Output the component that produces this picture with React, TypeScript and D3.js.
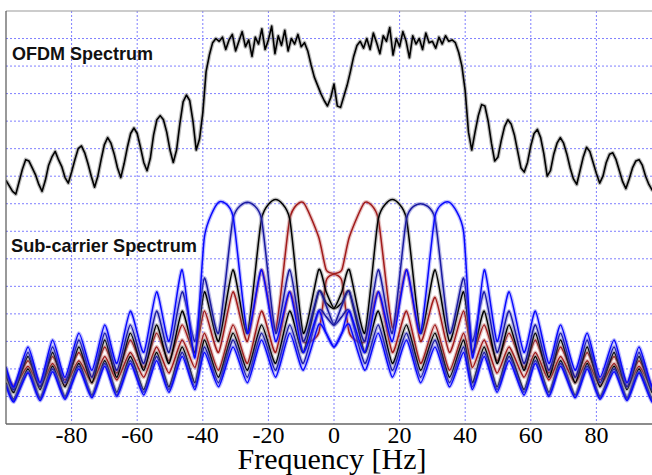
import React from "react";
import * as d3 from "d3";

// ---------- data (levels in grid units, 0 = bottom axis, 15 = top border) ----------
const xTicks = [-80, -60, -40, -20, 0, 20, 40, 60, 80];
const yGrid = [1, 2, 3, 4, 5, 6, 7, 8, 9, 10, 11, 12, 13, 14];

// OFDM spectrum sampled every 1 Hz from -100 Hz
const ofdmStartHz = -100;
const ofdmStepHz = 1;
const ofdmLevels = [
  8.85, 8.65, 8.45, 8.35, 8.8, 9.25, 9.6, 9.55, 9.3, 9.05,
  8.7, 8.45, 8.85, 9.4, 9.7, 9.9, 9.6, 9.35, 8.95, 8.75,
  9.15, 9.6, 10.0, 10.1, 9.85, 9.45, 9.0, 8.6, 9.0, 9.6,
  10.15, 10.4, 10.2, 9.8, 9.3, 8.95, 9.45, 10.05, 10.55, 10.75,
  10.55, 10.05, 9.5, 9.2, 9.65, 10.5, 11.05, 11.2, 11.05, 10.6,
  9.95, 9.5, 9.95, 10.9, 11.7, 11.95, 11.75, 11.0, 9.95, 10.35,
  11.3, 12.8, 13.4, 13.85, 14.0, 13.9, 14.05, 13.6, 13.95, 14.15,
  13.55, 13.9, 14.25, 13.7, 13.95, 13.35, 14.05, 13.8, 14.35, 13.6,
  13.95, 14.45, 13.45, 14.1, 13.75, 14.3, 13.55, 14.0, 13.8, 14.15,
  13.7, 13.85, 13.55, 13.05, 12.6, 12.3, 12.0, 11.75, 11.55, 11.85,
  12.35, 11.55, 11.5, 11.9, 12.3, 12.8, 13.35, 13.75, 13.9, 13.65,
  14.0, 13.6, 14.2, 13.85, 13.45, 14.1, 13.9, 14.4, 13.4, 14.0,
  13.7, 14.25, 13.9, 13.3, 14.1, 13.8, 14.0, 13.6, 14.2, 13.85,
  13.9, 13.65, 14.05, 13.8, 14.1, 13.9, 13.95, 13.85, 13.5, 13.0,
  12.1, 10.6, 9.95, 10.6, 11.2, 11.6, 11.55, 11.0, 10.2, 9.55,
  9.7, 10.3, 10.8, 11.05, 10.9, 10.5, 9.9, 9.3, 9.15, 9.5,
  10.1, 10.55, 10.7, 10.4, 9.8, 9.0, 9.2, 9.8, 10.2, 10.4,
  10.2, 9.8, 9.3, 8.9, 8.7, 9.2, 9.7, 10.05, 9.9, 9.5,
  9.1, 8.75, 9.0, 9.5, 9.8, 9.85, 9.6, 9.2, 8.8, 8.55,
  8.9, 9.3, 9.55, 9.6, 9.4, 9.0, 8.7, 8.5, 8.75,
];

// Sub-carrier spectra: levels at shared frequency nodes (peaks / nulls)
const scFreqs = [
  -100, -97.6, -93.3, -89.6, -85.8, -82, -77.8, -73.8, -69.9, -66.2, -62.1, -58, -54.1, -50.3, -46.3, -42.4,
  -39.5, -35.2, -30.8, -26.4, -22.1, -17.8, -13.5, -9.4, -4.7, -2.4, 0, 2.4, 4.7, 9.4, 13.5, 17.8, 22.1, 26.4, 30.8, 35.2, 39.5,
  42.2, 45.8, 49.7, 53.4, 57.9, 61.4, 65.5, 69.1, 73.5, 77.2, 81.1, 85.4, 89.3, 93, 97, 100,
];
const scBlueLeft = [
  2.08, 1.35, 2.8, 1.5, 3.05, 1.7, 3.3, 1.95, 3.6, 2.2, 4.1, 2.6, 4.8, 3.0, 5.6, 2.4,
  6.8, 8.05, 7.55, 3.3, 5.6, 3.0, 4.8, 2.6, 4.1, 3.3, 2.8, 3.3, 3.6, 1.95, 3.3, 1.7, 3.05, 1.5, 2.8, 1.35, 2.6,
  1.25, 2.45, 1.15, 2.3, 1.05, 2.2, 1.0, 2.1, 0.95, 2.0, 0.9, 1.9, 0.85, 1.85, 0.8, 1.4,
];
const scNavyLeft = [
  1.95, 1.25, 2.6, 1.35, 2.8, 1.5, 3.05, 1.7, 3.3, 1.95, 3.6, 2.2, 4.1, 2.6, 4.8, 3.0,
  5.3, 3.3, 7.45, 8.05, 7.45, 3.3, 5.6, 3.0, 4.8, 4.3, 3.6, 3.9, 4.1, 2.2, 3.6, 1.95, 3.3, 1.7, 3.05, 1.5, 2.8,
  1.35, 2.6, 1.25, 2.45, 1.15, 2.3, 1.05, 2.2, 1.0, 2.1, 0.95, 2.0, 0.9, 1.9, 0.85, 1.45,
];
const scBlackLeft = [
  1.83, 1.15, 2.45, 1.25, 2.6, 1.35, 2.8, 1.5, 3.05, 1.7, 3.3, 1.95, 3.6, 2.2, 4.1, 2.6,
  4.8, 3.0, 5.6, 3.3, 7.45, 8.15, 7.45, 3.3, 5.6, 4.8, 4.2, 4.4, 4.8, 2.6, 4.1, 2.2, 3.6, 1.95, 3.3, 1.7, 3.05,
  1.5, 2.8, 1.35, 2.6, 1.25, 2.45, 1.15, 2.3, 1.05, 2.2, 1.0, 2.1, 0.95, 2.0, 0.9, 1.5,
];
const scRedLeft = [
  1.9, 1.4, 2.3, 1.5, 2.45, 1.6, 2.6, 1.7, 2.8, 1.85, 3.05, 2.05, 3.3, 2.3, 3.6, 2.55,
  4.1, 2.6, 4.8, 3.0, 5.6, 3.4, 7.45, 8.05, 6.8, 5.6, 5.45, 5.2, 3.3, 3.0, 4.8, 2.6, 4.1, 2.2, 3.6, 1.95, 3.3,
  2.05, 3.05, 1.85, 2.8, 1.7, 2.6, 1.6, 2.45, 1.5, 2.3, 1.4, 2.2, 1.35, 2.1, 1.3, 1.75,
];
const scRedRight = [
  1.75, 1.3, 2.1, 1.35, 2.2, 1.4, 2.3, 1.5, 2.45, 1.6, 2.6, 1.7, 2.8, 1.85, 3.05, 2.05,
  3.3, 1.95, 3.6, 2.2, 4.1, 2.6, 4.8, 3.0, 3.3, 5.2, 5.45, 5.6, 6.8, 8.05, 7.45, 3.5, 5.6, 3.0, 4.6, 2.6, 4.1,
  2.55, 3.6, 2.3, 3.3, 2.05, 3.05, 1.85, 2.8, 1.7, 2.6, 1.6, 2.45, 1.5, 2.3, 1.4, 1.9,
];
const scBlackRight = [
  1.5, 0.9, 2.0, 0.95, 2.1, 1.0, 2.2, 1.05, 2.3, 1.15, 2.45, 1.25, 2.6, 1.35, 2.8, 1.5,
  3.05, 1.7, 3.3, 1.95, 3.6, 2.2, 4.1, 2.6, 4.8, 4.4, 4.2, 4.8, 5.6, 3.3, 7.45, 8.15, 7.45, 3.3, 5.6, 3.0, 4.8,
  2.6, 4.1, 2.2, 3.6, 1.95, 3.3, 1.7, 3.05, 1.5, 2.8, 1.35, 2.6, 1.25, 2.45, 1.15, 1.83,
];
const scNavyRight = [
  1.45, 0.85, 1.9, 0.9, 2.0, 0.95, 2.1, 1.0, 2.2, 1.05, 2.3, 1.15, 2.45, 1.25, 2.6, 1.35,
  2.8, 1.5, 3.05, 1.7, 3.3, 1.95, 3.6, 2.2, 4.1, 3.9, 3.6, 4.3, 4.8, 3.0, 5.6, 3.3, 7.45, 8.0, 7.45, 3.3, 5.3,
  3.0, 4.8, 2.6, 4.1, 2.2, 3.6, 1.95, 3.3, 1.7, 3.05, 1.5, 2.8, 1.35, 2.6, 1.25, 1.95,
];
const scBlueRight = [
  1.4, 0.8, 1.85, 0.85, 1.9, 0.9, 2.0, 0.95, 2.1, 1.0, 2.2, 1.05, 2.3, 1.15, 2.45, 1.25,
  2.6, 1.35, 2.8, 1.5, 3.05, 1.7, 3.3, 1.95, 3.6, 3.3, 2.8, 3.3, 4.1, 2.6, 4.8, 3.0, 5.6, 3.3, 7.55, 8.05, 7.0,
  2.4, 5.6, 3.0, 4.8, 2.6, 4.1, 2.2, 3.6, 1.95, 3.3, 1.7, 3.05, 1.5, 2.8, 1.35, 2.08,
];

const labelTop = "OFDM Spectrum";
const labelBottom = "Sub-carrier Spectrum";
const xTitle = "Frequency [Hz]";

const RED = "#a11a1a";
const BLACK = "#000000";
const NAVY = "#1a1aa0";
const BLUE = "#0808ff";

const subcarriers = [
  { key: "redL", values: scRedLeft, color: RED, halo: "#c46a6a" },
  { key: "redR", values: scRedRight, color: RED, halo: "#c46a6a" },
  { key: "blackL", values: scBlackLeft, color: BLACK, halo: "#6e6e6e" },
  { key: "blackR", values: scBlackRight, color: BLACK, halo: "#6e6e6e" },
  { key: "navyL", values: scNavyLeft, color: NAVY, halo: "#5858c8" },
  { key: "navyR", values: scNavyRight, color: NAVY, halo: "#5858c8" },
  { key: "blueL", values: scBlueLeft, color: BLUE, halo: "#6060ff" },
  { key: "blueR", values: scBlueRight, color: BLUE, halo: "#6060ff" },
];

export default function App() {
  const W = 652;
  const H = 475;
  const left = 6;
  const top = 11;
  const bottom = 424;
  const x = d3.scaleLinear().domain([-100, 100]).range([left, 662]);
  const y = d3.scaleLinear().domain([0, 15]).range([bottom, top]);

  const ofdmPts: [number, number][] = ofdmLevels.map((v, i) => [ofdmStartHz + i * ofdmStepHz, v]);
  const ofdmLine = d3
    .line<[number, number]>()
    .x((d) => x(d[0]))
    .y((d) => y(d[1]))
    .curve(d3.curveLinear);
  const scLine = d3
    .line<[number, number]>()
    .x((d) => x(d[0]))
    .y((d) => y(d[1]))
    .curve(d3.curveCardinal.tension(0.4));
  const ofdmPath = ofdmLine(ofdmPts) || "";

  const gridColor = "#7e7eff";

  return (
    <svg
      width={W}
      height={H}
      viewBox={`0 0 ${W} ${H}`}
      style={{ position: "absolute", left: 0, top: 0, background: "#fff" }}
    >
      <defs>
        <clipPath id="plotClip">
          <rect x={left} y={top} width={W - left} height={bottom - top} />
        </clipPath>
      </defs>
      <rect x={0} y={0} width={W} height={H} fill="#fff" />

      {/* grid */}
      <g>
        {yGrid.map((g) => (
          <line
            key={"h" + g}
            x1={left}
            x2={W}
            y1={y(g)}
            y2={y(g)}
            stroke={gridColor}
            strokeWidth={1}
            strokeDasharray="2 2"
          />
        ))}
        {xTicks.map((t) => (
          <line
            key={"v" + t}
            x1={x(t)}
            x2={x(t)}
            y1={top}
            y2={bottom}
            stroke={gridColor}
            strokeWidth={1}
            strokeDasharray="2 2"
          />
        ))}
      </g>

      {/* curves */}
      <g clipPath="url(#plotClip)">
        <path d={ofdmPath} fill="none" stroke="#7a7a7a" strokeWidth={4} strokeOpacity={0.5} strokeLinejoin="round" />
        <path d={ofdmPath} fill="none" stroke="#000" strokeWidth={1.6} strokeLinejoin="round" />
        {subcarriers.map((s) => {
          const pts: [number, number][] = s.values.map((v, i) => [scFreqs[i], v]);
          const p = scLine(pts) || "";
          return (
            <g key={s.key}>
              <path d={p} fill="none" stroke={s.halo} strokeWidth={4} strokeOpacity={0.4} />
              <path d={p} fill="none" stroke={s.color} strokeWidth={1.5} />
            </g>
          );
        })}
      </g>

      {/* frame */}
      <line x1={left} x2={W} y1={top} y2={top} stroke="#999" strokeWidth={1} />
      <line x1={left} x2={left} y1={top} y2={bottom} stroke="#555" strokeWidth={1.2} />
      <line x1={left} x2={W} y1={bottom} y2={bottom} stroke="#666" strokeWidth={1.5} />

      {/* labels */}
      <text
        x={12}
        y={60}
        fontFamily="'Liberation Sans', Arial, sans-serif"
        fontWeight="bold"
        fontSize={18}
        fill="#111"
      >
        {labelTop}
      </text>
      <text
        x={11}
        y={252}
        fontFamily="'Liberation Sans', Arial, sans-serif"
        fontWeight="bold"
        fontSize={18.2}
        fill="#111"
      >
        {labelBottom}
      </text>

      {xTicks.map((t) => (
        <text
          key={"t" + t}
          x={x(t)}
          y={443}
          textAnchor="middle"
          fontFamily="'Liberation Serif', 'Times New Roman', serif"
          fontSize={24}
          fill="#000"
        >
          {t}
        </text>
      ))}
      <text
        x={332}
        y={469}
        textAnchor="middle"
        fontFamily="'Liberation Serif', 'Times New Roman', serif"
        fontSize={30}
        fill="#000"
      >
        {xTitle}
      </text>
    </svg>
  );
}
